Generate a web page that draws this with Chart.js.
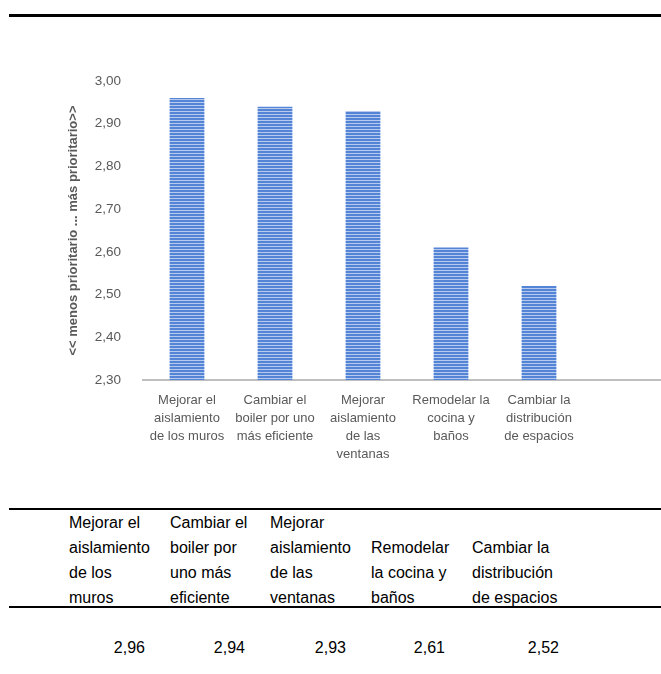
<!DOCTYPE html>
<html>
<head>
<meta charset="utf-8">
<script src="https://cdn.jsdelivr.net/npm/chart.js@4.4.1/dist/chart.umd.min.js"></script>
<style>
  html, body { margin: 0; padding: 0; background: #fff; }
  body { width: 661px; height: 674px; overflow: hidden; position: relative; font-family: "Liberation Sans", Arial, sans-serif; }
  .rule { position: absolute; left: 9px; right: 0; background: #000; }
  #chartBox { position: absolute; left: 0; top: 40px; width: 671px; height: 440px; }
  .cell { position: absolute; font-size: 16px; line-height: 25px; color: #000; white-space: nowrap; }
  .val { position: absolute; top: 637px; font-size: 16px; line-height: 22px; color: #000; text-align: right; }
</style>
</head>
<body>
<div class="rule" style="top:14px;height:3px"></div>
<div id="chartBox"><canvas id="prioridadChart"></canvas></div>
<div class="rule" style="top:508px;height:2px"></div>
<div class="rule" style="top:606px;height:2px"></div>
<div id="tabla"></div>

<script>
// Medidas de mejora evaluadas (etiquetas del eje, partidas en líneas)
const categorias = [
    ['Mejorar el', 'aislamiento', 'de los muros'],
    ['Cambiar el', 'boiler por uno', 'más eficiente'],
    ['Mejorar', 'aislamiento', 'de las', 'ventanas'],
    ['Remodelar la', 'cocina y', 'baños'],
    ['Cambiar la', 'distribución', 'de espacios']
];
// Las mismas medidas como aparecen en la tabla de datos
const categoriasTabla = [
    ['Mejorar el', 'aislamiento', 'de los', 'muros'],
    ['Cambiar el', 'boiler por', 'uno más', 'eficiente'],
    ['Mejorar', 'aislamiento', 'de las', 'ventanas'],
    ['Remodelar', 'la cocina y', 'baños'],
    ['Cambiar la', 'distribución', 'de espacios']
];
const promedios = [2.96, 2.94, 2.93, 2.61, 2.52];
const ejeMin = 2.3;
const ejeMax = 3.0;
const ejePaso = 0.1;
const tituloEje = '<< menos prioritario ... más prioritario>>';

const fmt = v => v.toFixed(2).replace('.', ',');

// Relleno de barras con rayas horizontales
function crearRayas() {
    const c = document.createElement('canvas');
    c.width = 4; c.height = 3;
    const g = c.getContext('2d');
    g.fillStyle = '#b7caee';
    g.fillRect(0, 0, 4, 3);
    g.fillStyle = '#5384d6';
    g.fillRect(0, 0, 4, 2);
    return g.createPattern(c, 'repeat');
}

const ctx = document.getElementById('prioridadChart').getContext('2d');
new Chart(ctx, {
    type: 'bar',
    data: {
        // una categoría vacía al final deja el eje extendido a la derecha
        labels: [...categorias, ''],
        datasets: [{
            data: [...promedios, null],
            backgroundColor: crearRayas(),
            borderWidth: 0,
            barPercentage: 0.395,
            categoryPercentage: 1
        }]
    },
    options: {
        responsive: true,
        maintainAspectRatio: false,
        animation: false,
        layout: { padding: { top: 41, left: 0, right: 0, bottom: 0 } },
        plugins: { legend: { display: false }, tooltip: { enabled: false } },
        scales: {
            x: {
                grid: { display: true, color: 'transparent', drawTicks: false },
                border: { display: true, color: '#bfbfbf', width: 2 },
                ticks: {
                    color: '#595959',
                    font: { family: '"Liberation Sans", Arial, sans-serif', size: 13, lineHeight: 1.37 },
                    padding: 12,
                    autoSkip: false,
                    maxRotation: 0
                },
                afterFit: s => { s.height = 100; }
            },
            y: {
                min: ejeMin,
                max: ejeMax,
                grid: { display: false, drawTicks: false },
                border: { display: false },
                ticks: {
                    stepSize: ejePaso,
                    color: '#595959',
                    font: { family: '"Liberation Sans", Arial, sans-serif', size: 13.5 },
                    padding: 22,
                    callback: v => fmt(v)
                },
                title: {
                    display: true,
                    text: tituloEje,
                    color: '#595959',
                    font: { family: '"Liberation Sans", Arial, sans-serif', size: 13, weight: 'bold' },
                    padding: { top: 66, bottom: 0 }
                },
                afterFit: s => { s.width = 143; }
            }
        }
    }
});

// Tabla de datos bajo el gráfico
const colX = [69, 170, 270, 371, 472];
const valDer = [145, 245, 346, 445, 559];
const tabla = document.getElementById('tabla');
categoriasTabla.forEach((lineas, i) => {
    const top = 510 + (4 - lineas.length) * 25;
    const d = document.createElement('div');
    d.className = 'cell';
    d.style.left = colX[i] + 'px';
    d.style.top = top + 'px';
    d.innerHTML = lineas.join('<br>');
    tabla.appendChild(d);

    const v = document.createElement('div');
    v.className = 'val';
    v.style.left = (valDer[i] - 80) + 'px';
    v.style.width = '80px';
    v.textContent = fmt(promedios[i]);
    tabla.appendChild(v);
});
</script>
</body>
</html>
